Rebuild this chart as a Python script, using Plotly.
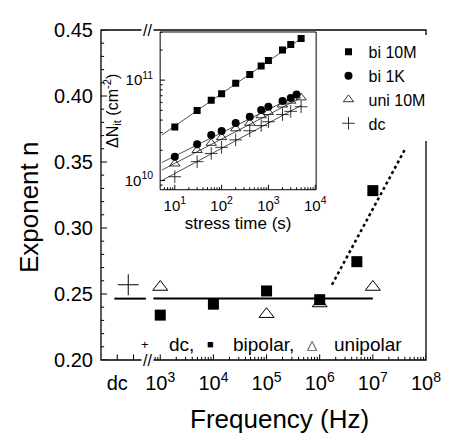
import plotly.graph_objects as go

# main panel: power-law exponent n vs stress frequency
dc_pos = [250]            # where the "dc" point sits on the frequency axis
dc_n = [0.257]
bi_freq = [1e3, 1e4, 1e5, 1e6, 5e6, 1e7]
bi_n = [0.234, 0.2423, 0.2523, 0.2457, 0.2745, 0.3283]
uni_freq = [1e3, 1e5, 1e6, 1e7]
uni_n = [0.2553, 0.2347, 0.2428, 0.2553]
dc_line_f = [137, 537]
main_line_f = [741, 1e7]
flat_n = [0.2465, 0.2465]
trend_f = [1.7e6, 4.07e7]
trend_n = [0.257, 0.36]

freq_tickvals = [155, 1e3, 1e4, 1e5, 1e6, 1e7, 1e8]
freq_ticktext = ["dc", "10<sup>3</sup>", "10<sup>4</sup>", "10<sup>5</sup>",
                 "10<sup>6</sup>", "10<sup>7</sup>", "10<sup>8</sup>"]

# inset: interface trap density vs stress time
t_bi10M = [10, 30, 60, 100, 200, 400, 700, 1000, 2000, 3000, 5000]
N_bi10M = [3.42e10, 4.97e10, 6.3e10, 7.3e10, 9.3e10, 1.14e11, 1.38e11, 1.57e11, 2.0e11, 2.27e11, 2.6e11]
t_bi1K = [10, 30, 60, 100, 200, 400, 700, 1000, 2000, 3000, 4000]
N_bi1K = [1.72e10, 2.30e10, 2.84e10, 3.12e10, 3.74e10, 4.31e10, 5.04e10, 5.43e10, 6.21e10, 6.64e10, 7.2e10]
t_uni = [10, 30, 60, 100, 200, 400, 700, 1000, 2000, 3000, 5000]
N_uni = [1.47e10, 2.0e10, 2.36e10, 2.69e10, 3.29e10, 3.74e10, 4.44e10, 4.78e10, 5.68e10, 6.21e10, 6.69e10]
t_dc = [10, 30, 60, 100, 200, 400, 700, 1000, 2000, 3000, 5000]
N_dc = [1.09e10, 1.54e10, 1.86e10, 2.14e10, 2.54e10, 3.13e10, 3.52e10, 3.85e10, 4.54e10, 4.89e10, 5.43e10]

fit_bi10M_t, fit_bi10M_N = [5.3, 5000], [2.84e10, 2.6e11]
fit_bi1K_t, fit_bi1K_N = [5.3, 4400], [1.51e10, 7.2e10]
fit_uni_t, fit_uni_N = [5.3, 5000], [1.27e10, 6.7e10]
fit_dc_t, fit_dc_N = [5.3, 5000], [1.0e10, 5.6e10]

# axis ranges (log10 for log axes)
F_RANGE = [1.885, 8.0]
N_RANGE = [0.20, 0.45]
T_RANGE = [0.687, 4.02]
D_RANGE = [9.908, 11.48]

# tick marks and labels
f_major = [155, 314] + [10 ** k for k in range(3, 9)]
f_minor = [800, 900] + [m * 10 ** k for k in range(3, 8) for m in range(2, 10)]
n_major = [0.20, 0.25, 0.30, 0.35, 0.40, 0.45]
n_minor = [round(0.20 + 0.01 * i, 2) for i in range(26) if i % 5]
t_major = [10, 100, 1000, 10000]
t_labels = ["10<sup>1</sup>", "10<sup>2</sup>", "10<sup>3</sup>", "10<sup>4</sup>"]
t_minor = [6, 7, 8, 9] + [m * 10 ** k for k in range(1, 4) for m in range(2, 10)]
d_major = [1e10, 1e11]
d_labels = ["10<sup>10</sup>", "10<sup>11</sup>"]
d_minor = [9e9] + [m * 1e10 for m in range(2, 10)] + [2e11, 3e11]

FONT = "Liberation Sans, Arial, sans-serif"
INK = "black"

fig = go.Figure()


def tick_marks(vals, fixed, horizontal, size, xa="x", ya="y"):
    # inside tick marks; the half outside the plot area is clipped away
    if horizontal:
        x, y, sym = [fixed] * len(vals), vals, "line-ew"
    else:
        x, y, sym = vals, [fixed] * len(vals), "line-ns"
    fig.add_trace(go.Scatter(x=x, y=y, xaxis=xa, yaxis=ya, mode="markers", cliponaxis=True,
                             marker=dict(symbol=sym, size=size, line=dict(color=INK, width=1)),
                             showlegend=False, hoverinfo="skip"))


# ---- main panel
fig.add_trace(go.Scatter(x=dc_line_f, y=flat_n, mode="lines", line=dict(color=INK, width=2),
                         showlegend=False))
fig.add_trace(go.Scatter(x=main_line_f, y=flat_n, mode="lines", line=dict(color=INK, width=2),
                         showlegend=False))
fig.add_trace(go.Scatter(x=trend_f, y=trend_n, mode="lines",
                         line=dict(color=INK, width=2.5, dash="dot"),
                         showlegend=False))
fig.add_trace(go.Scatter(x=dc_pos, y=dc_n, mode="markers", name="dc",
                         marker=dict(symbol="cross-thin", size=15, color=INK, line=dict(color=INK, width=1)),
                         showlegend=False))
fig.add_trace(go.Scatter(x=uni_freq, y=uni_n, mode="markers", name="unipolar",
                         marker=dict(symbol="triangle-up-open", size=13, color=INK, line=dict(color=INK, width=1)),
                         showlegend=False))
fig.add_trace(go.Scatter(x=bi_freq, y=bi_n, mode="markers", name="bipolar",
                         marker=dict(symbol="square", size=11, color=INK),
                         showlegend=False))

tick_marks(f_major, N_RANGE[0], False, 8)
tick_marks(f_minor, N_RANGE[0], False, 4.5)
tick_marks(n_major, 10 ** F_RANGE[0], True, 8.5)
tick_marks(n_minor, 10 ** F_RANGE[0], True, 4.5)

# ---- inset fits
for ft, fn in [(fit_bi10M_t, fit_bi10M_N), (fit_bi1K_t, fit_bi1K_N),
               (fit_uni_t, fit_uni_N), (fit_dc_t, fit_dc_N)]:
    fig.add_trace(go.Scatter(x=ft, y=fn, xaxis="x2", yaxis="y2", mode="lines",
                             line=dict(color="#222", width=0.8), showlegend=False))

tick_marks(t_major, 10 ** D_RANGE[0], False, 7, "x2", "y2")
tick_marks(t_minor, 10 ** D_RANGE[0], False, 3.5, "x2", "y2")
tick_marks(d_major, 10 ** T_RANGE[0], True, 7, "x2", "y2")
tick_marks(d_minor, 10 ** T_RANGE[0], True, 3.5, "x2", "y2")

# ---- inset points
fig.add_trace(go.Scatter(x=t_bi10M, y=N_bi10M, xaxis="x2", yaxis="y2", mode="markers", name="bi 10M",
                         marker=dict(symbol="square", size=7, color=INK)))
fig.add_trace(go.Scatter(x=t_bi1K, y=N_bi1K, xaxis="x2", yaxis="y2", mode="markers", name="bi 1K",
                         marker=dict(symbol="circle", size=8, color=INK)))
fig.add_trace(go.Scatter(x=t_uni, y=N_uni, xaxis="x2", yaxis="y2", mode="markers", name="uni 10M",
                         marker=dict(symbol="triangle-up-open", size=9, color=INK, line=dict(color=INK, width=0.8))))
fig.add_trace(go.Scatter(x=t_dc, y=N_dc, xaxis="x2", yaxis="y2", mode="markers", name="dc",
                         marker=dict(symbol="cross-thin", size=9, color=INK, line=dict(color=INK, width=0.8))))

fig.update_layout(
    width=444, height=432,
    margin=dict(l=93, r=11, t=13, b=80),
    paper_bgcolor="white", plot_bgcolor="rgba(0,0,0,0)",
    font=dict(family=FONT, color=INK),
    xaxis=dict(type="log", range=F_RANGE, domain=[0, 1], anchor="y", showgrid=False,
               zeroline=False, ticks="", tickvals=freq_tickvals, ticktext=freq_ticktext,
               ticklabelstandoff=9, tickfont=dict(size=20)),
    yaxis=dict(range=N_RANGE, domain=[0, 1], anchor="x", showgrid=False, zeroline=False,
               ticks="", tickvals=n_major, tickformat=".2f", ticklabelstandoff=7,
               tickfont=dict(size=20)),
    xaxis2=dict(type="log", range=T_RANGE, domain=[0.182, 0.662], anchor="y2", showgrid=False,
                zeroline=False, ticks="", tickvals=t_major, ticktext=t_labels,
                ticklabelstandoff=5, tickfont=dict(size=15),
                title=dict(text="stress time (s)", font=dict(size=17), standoff=4)),
    yaxis2=dict(type="log", range=D_RANGE, domain=[0.516, 0.994], anchor="x2", showgrid=False,
                zeroline=False, ticks="", tickvals=d_major, ticktext=d_labels,
                ticklabelstandoff=6, tickfont=dict(size=15),
                title=dict(text="ΔN<sub>it</sub> (cm<sup>-2</sup>)", font=dict(size=16), standoff=2)),
    legend=dict(x=0.70, y=0.985, xanchor="left", yanchor="top", bgcolor="white",
                font=dict(size=16)),
)

# frames
fig.add_shape(type="rect", xref="paper", yref="paper", x0=0, x1=1, y0=0, y1=1,
              line=dict(color=INK, width=1.3))
fig.add_shape(type="rect", xref="x2 domain", yref="y2 domain", x0=0, x1=1, y0=0, y1=1,
              line=dict(color=INK, width=1))

# axis titles (offset like the original)
fig.add_annotation(text="Frequency (Hz)", xref="paper", yref="paper", x=0.55, y=-0.178,
                   xanchor="center", yanchor="middle", showarrow=False, font=dict(size=26))
fig.add_annotation(text="Exponent n", xref="paper", yref="paper", x=-0.222, y=0.463,
                   xanchor="center", yanchor="middle", textangle=-90, showarrow=False,
                   font=dict(size=26))

# axis break marks
for yb in [0, 1]:
    fig.add_annotation(text="//", xref="paper", yref="paper", x=0.144, y=yb,
                       xanchor="center", yanchor="middle", showarrow=False,
                       bgcolor="white", font=dict(size=16))

# key for the main panel
key = [("+", 0.135, "center", 13), ("dc,", 0.203, "left", 19), ("■", 0.338, "center", 11),
       ("bipolar,", 0.400, "left", 19), ("△", 0.650, "center", 13), ("unipolar", 0.712, "left", 19)]
for txt, kx, anchor, size in key:
    fig.add_annotation(text=txt, xref="paper", yref="paper", x=kx, y=0.047, xanchor=anchor,
                       yanchor="middle", showarrow=False, font=dict(size=size))

fig.write_html("out.html")
